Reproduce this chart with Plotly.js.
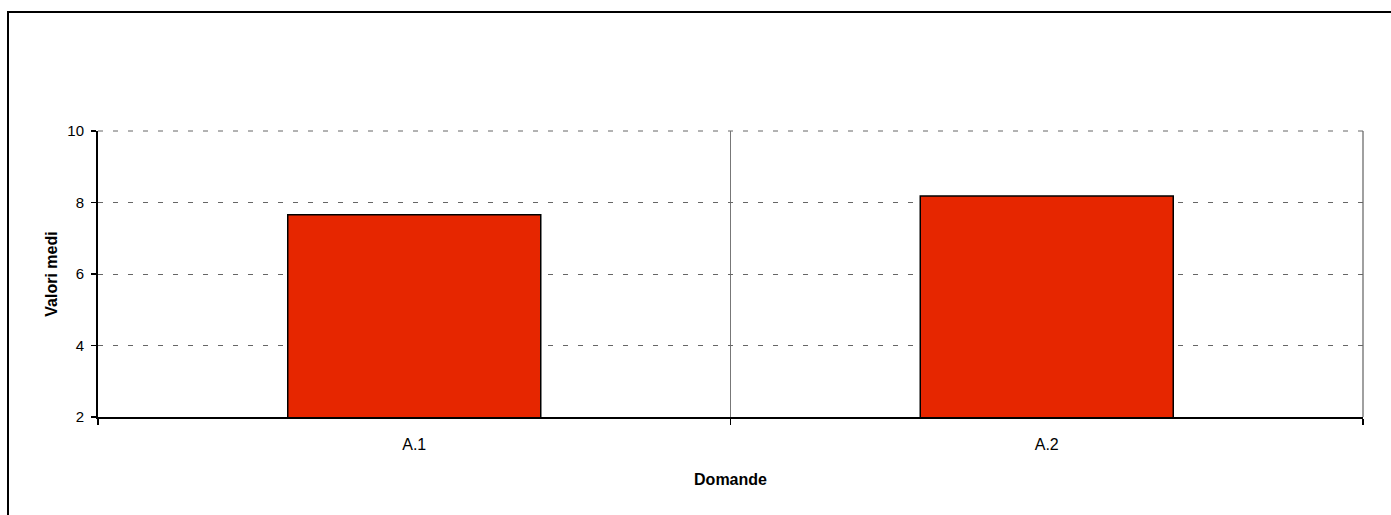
<!DOCTYPE html>
<html>
<head>
<meta charset="utf-8">
<script src="https://cdn.plot.ly/plotly-3.0.1.min.js"></script>
<style>
  html, body { margin: 0; padding: 0; background: #fff; overflow: hidden; }
  #chart { width: 1391px; height: 515px; position: absolute; left: 0; top: 0; }
  #frame { position: absolute; left: 7px; top: 11px; width: 1500px; height: 700px;
           border-left: 2px solid #000; border-top: 2px solid #000; pointer-events: none; }
</style>
</head>
<body>
<div id="chart"></div>
<div id="frame"></div>
<script>
const categories = ["A.1", "A.2"];
const values = [7.66, 8.18];
const yTicks = [2, 4, 6, 8, 10];
const xTitle = "Domande";
const yTitle = "Valori medi";

const fontFam = '"Liberation Sans Narrow", "Arial Narrow", "Liberation Sans", Arial, sans-serif';

const trace = {
  type: "bar",
  x: categories,
  y: values,
  width: 0.4,
  marker: { color: "#E62600", line: { color: "#000", width: 1.5 } },
  hoverinfo: "x+y"
};

const layout = {
  width: 1391,
  height: 515,
  margin: { l: 98, r: 28, t: 131, b: 98 },
  paper_bgcolor: "#fff",
  plot_bgcolor: "#fff",
  showlegend: false,
  font: { family: fontFam, color: "#000", size: 16 },
  shapes: [
    { type: "line", xref: "x domain", yref: "y domain", x0: 1, x1: 1, y0: 0, y1: 1,
      line: { color: "#808080", width: 1.5 }, layer: "below" },
    { type: "line", xref: "x domain", yref: "y domain", x0: 0, x1: 1, y0: 1, y1: 1,
      line: { color: "#666", width: 1, dash: "5px,10px" }, layer: "below" }
  ],
  xaxis: {
    type: "category",
    tickson: "boundaries",
    ticks: "outside",
    ticklen: 6,
    tickwidth: 1.5,
    tickcolor: "#000",
    ticklabelstandoff: 12,
    showgrid: true,
    gridcolor: "#777",
    gridwidth: 1,
    showline: true,
    linecolor: "#000",
    linewidth: 2,
    automargin: false,
    tickfont: { family: fontFam, size: 16, color: "#000" },
    title: { text: xTitle, font: { family: fontFam, size: 16, color: "#000", weight: "bold" }, standoff: 22 }
  },
  yaxis: {
    range: [2, 10],
    tickvals: yTicks,
    ticktext: yTicks.map(String),
    ticks: "outside",
    ticklen: 5,
    tickwidth: 1.5,
    tickcolor: "#000",
    ticklabelstandoff: 4,
    showgrid: true,
    gridcolor: "#666",
    gridwidth: 1,
    griddash: "5px,10px",
    zeroline: false,
    showline: true,
    linecolor: "#000",
    linewidth: 2,
    automargin: false,
    tickfont: { family: fontFam, size: 15, color: "#000" },
    title: { text: yTitle, font: { family: fontFam, size: 16, color: "#000", weight: "bold" }, standoff: 6 }
  }
};

Plotly.newPlot("chart", [trace], layout, { displayModeBar: false, staticPlot: true });
</script>
</body>
</html>
